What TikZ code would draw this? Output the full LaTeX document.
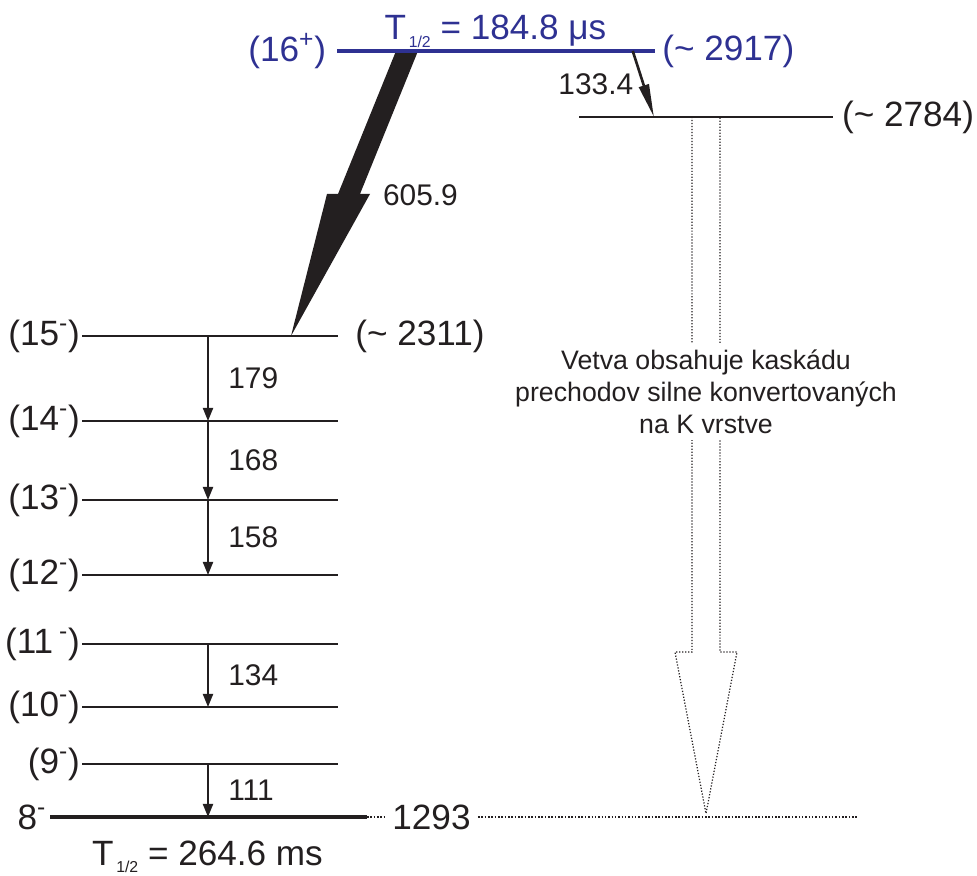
\documentclass[tikz,border=0pt]{standalone}
\usepackage{fontspec}
\setmainfont{Liberation Sans}
\usepackage{tikz}
\usetikzlibrary{calc,arrows.meta}

\definecolor{levblue}{RGB}{46,49,146}
\definecolor{ink}{RGB}{35,31,32}
\newcommand{\Thalf}{T\raisebox{-4pt}{\fontsize{9}{10}\selectfont\,1/2}}

\tikzset{
  lev/.style={draw=ink,line width=1.1pt},
  thicklev/.style={draw=ink,line width=2.4pt},
  isolev/.style={draw=levblue,line width=2.4pt},
  trans/.style={draw=ink,line width=1.1pt,-{Triangle[length=0.26cm,width=0.2cm]}},
  spin/.style={text=ink,font=\fontsize{20}{24}\selectfont,inner sep=1pt},
  egam/.style={text=ink,font=\fontsize{17}{20}\selectfont,inner sep=1pt},
  remark/.style={text=ink,font=\fontsize{15.2}{18.2}\selectfont,align=center,fill=white,inner sep=3.5pt},
  hollow/.style={draw=ink,densely dotted,line width=0.7pt},
  dots/.style={draw=ink,densely dotted,line width=0.9pt}
}

\begin{document}
\begin{tikzpicture}
  \useasboundingbox (0,0) rectangle (19.54,17.52);
  % level ends
  \coordinate (L16) at (6.74,16.5);  \coordinate (R16) at (13.1,16.5);
  \coordinate (L27) at (11.58,15.18); \coordinate (R27) at (16.66,15.18);
  \coordinate (L15) at (1.64,10.8);  \coordinate (R15) at (6.76,10.8);
  \coordinate (L14) at (1.64,9.1);   \coordinate (R14) at (6.76,9.1);
  \coordinate (L13) at (1.64,7.52);  \coordinate (R13) at (6.76,7.52);
  \coordinate (L12) at (1.64,6.02);  \coordinate (R12) at (6.76,6.02);
  \coordinate (L11) at (1.64,4.64);  \coordinate (R11) at (6.76,4.64);
  \coordinate (L10) at (1.64,3.38);  \coordinate (R10) at (6.76,3.38);
  \coordinate (L9) at (1.64,2.24);   \coordinate (R9) at (6.76,2.24);
  \coordinate (L8) at (1.0,1.18);    \coordinate (R8) at (7.34,1.18);
  \coordinate (tx) at (4.16,0);

  % strong 605.9 branch
  \coordinate (g16) at (8.14,16.5);
  \coordinate (g15) at (5.82,10.8);
  \fill[ink] ($(g16)+(-0.22,0)$) -- ($(g16)+(0.22,0)$) -- ($(g15)+(1.38,2.84)$) -- ($(g15)+(1.58,2.84)$)
    -- (g15) -- ($(g15)+(0.72,2.84)$) -- ($(g15)+(0.94,2.84)$) -- cycle;
  \node[egam,anchor=west] (e605) at (7.62,13.62) {605.9};

  % levels
  \draw[isolev] (L16) -- (R16);
  \draw[lev] (L27) -- (R27);
  \draw[lev] (L15) -- (R15);
  \draw[lev] (L14) -- (R14);
  \draw[lev] (L13) -- (R13);
  \draw[lev] (L12) -- (R12);
  \draw[lev] (L11) -- (R11);
  \draw[lev] (L10) -- (R10);
  \draw[lev] (L9) -- (R9);
  \draw[thicklev] (L8) -- (R8);

  \node[spin,anchor=east,text=levblue,xshift=-5pt] (s16) at (L16) {(16\textsuperscript{+})};
  \node[spin,anchor=west,text=levblue,xshift=3pt] (e16) at (R16) {(\textasciitilde{} 2917)};
  \node[spin,anchor=base,text=levblue] (t16) at (9.91,16.72) {\Thalf{} = 184.8 μs};
  \node[spin,anchor=west,xshift=4pt] (e27) at (R27) {(\textasciitilde{} 2784)};
  \node[spin,anchor=east] (s15) at (L15) {(15\textsuperscript{-})};
  \node[spin,anchor=west,xshift=8.7pt] (e15) at (R15) {(\textasciitilde{} 2311)};
  \node[spin,anchor=east] (s14) at (L14) {(14\textsuperscript{-})};
  \node[spin,anchor=east] (s13) at (L13) {(13\textsuperscript{-})};
  \node[spin,anchor=east] (s12) at (L12) {(12\textsuperscript{-})};
  \node[spin,anchor=east] (s11) at (L11) {(11\,\textsuperscript{-})};
  \node[spin,anchor=east] (s10) at (L10) {(10\textsuperscript{-})};
  \node[spin,anchor=east] (s9) at (L9) {(9\textsuperscript{-})};
  \node[spin,anchor=east,inner sep=2pt] (s8) at (L8) {8\textsuperscript{-}};
  \node[spin,anchor=base] (t8) at (4.15,0.22) {\Thalf{} = 264.6 ms};

  % 133.4 branch
  \draw[ink,line width=1.5pt,-{Triangle[length=0.66cm,width=0.2cm]}] ($(L16)!0.93!(R16)$) -- ($(L27)!0.295!(R27)$)
    node[egam,midway,left=4pt] (e133) {133.4};

  % cascade
  \draw[trans] (tx |- L15) -- (tx |- L14) node[egam,midway,right=10pt] (e179) {179};
  \draw[trans] (tx |- L14) -- (tx |- L13) node[egam,midway,right=10pt] (e168) {168};
  \draw[trans] (tx |- L13) -- (tx |- L12) node[egam,midway,right=10pt] (e158) {158};
  \draw[trans] (tx |- L11) -- (tx |- L10) node[egam,midway,right=10pt] (e134) {134};
  \draw[trans] (tx |- L9) -- (tx |- L8) node[egam,midway,right=10pt] (e111) {111};

  % converted branch
  \coordinate (h1) at (14.12,15.18);
  \coordinate (h2) at (14.12,1.25);
  \draw[hollow] ($(h1)+(-0.28,0)$) -- ($(h2)+(-0.28,3.23)$) -- ++(-0.34,0) -- (h2)
    -- ($(h2)+(0.62,3.23)$) -- ++(-0.34,0) -- ($(h1)+(0.28,0)$);
  \node[remark] (txt) at (14.12,9.68) {Vetva obsahuje kaskádu\\prechodov silne konvertovaných\\na K vrstve};

  % ground energy
  \node[spin,inner sep=4pt] (e8) at (8.63,1.18) {1293};
  \coordinate (dend) at (17.14,1.18);
  \draw[dots] (R8) -- (e8.west);
  \draw[dots] (e8.east) -- (dend);
\end{tikzpicture}
\end{document}
